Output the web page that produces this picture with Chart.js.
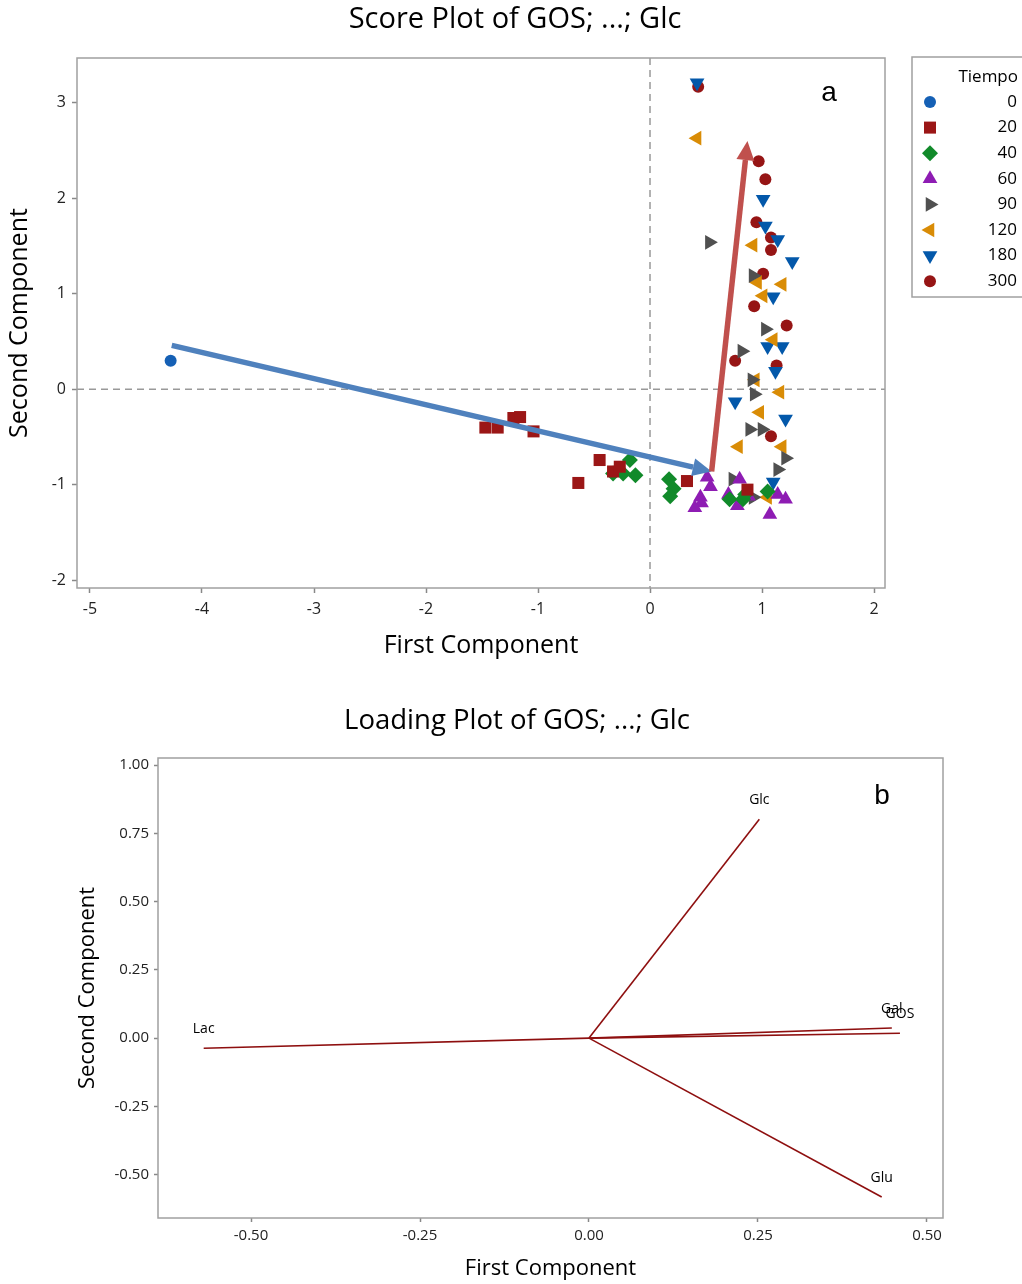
<!DOCTYPE html>
<html lang="en">
<head>
    <meta charset="UTF-8">
    <title>Score Plot / Loading Plot of GOS; ...; Glc</title>
    <script src="https://cdn.jsdelivr.net/npm/chart.js"></script>
    <style>
        body { margin: 0; background: #fff; }
        .panel { position: absolute; left: 0; }
        #scoreWrap { top: 0; }
        #loadWrap { top: 680px; }
    </style>
</head>
<body>
    <div class="panel" id="scoreWrap"><canvas id="scoreChart" width="1022" height="680"></canvas></div>
    <div class="panel" id="loadWrap"><canvas id="loadChart" width="1022" height="604"></canvas></div>

    <script>
        // ---- Score plot data (First Component, Second Component) per Tiempo ----
        const tiempoLabels = ['0', '20', '40', '60', '90', '120', '180', '300'];
        const scores0 = [[-4.28, 0.30]];
        const scores20 = [[-1.47, -0.40], [-1.36, -0.40], [-1.22, -0.30], [-1.16, -0.29], [-1.04, -0.44],
            [-0.64, -0.98], [-0.45, -0.74], [-0.33, -0.86], [-0.27, -0.81], [0.33, -0.96], [0.87, -1.05]];
        const scores40 = [[-0.18, -0.74], [-0.33, -0.88], [-0.24, -0.88], [-0.13, -0.90], [0.17, -0.94],
            [0.21, -1.04], [0.18, -1.12], [0.71, -1.15], [0.83, -1.15], [0.85, -1.10], [1.05, -1.07]];
        const scores60 = [[0.51, -0.92], [0.54, -1.02], [0.45, -1.13], [0.46, -1.19], [0.40, -1.24], [0.80, -0.94],
            [0.70, -1.10], [0.78, -1.22], [0.88, -1.12], [1.14, -1.10], [1.21, -1.15], [1.07, -1.31]];
        const scores90 = [[0.53, 1.54], [0.92, 1.19], [1.03, 0.63], [0.82, 0.40], [0.91, 0.10], [0.93, -0.05],
            [0.89, -0.42], [1.00, -0.42], [1.21, -0.72], [1.14, -0.84], [0.74, -0.94], [0.92, -1.13]];
        const scores120 = [[0.42, 2.63], [0.92, 1.51], [0.96, 1.12], [1.18, 1.10], [1.01, 0.98], [1.10, 0.52],
            [0.94, 0.10], [1.16, -0.03], [0.98, -0.24], [1.18, -0.60], [0.79, -0.60], [1.05, -1.13]];
        const scores180 = [[0.42, 3.21], [1.01, 1.99], [1.03, 1.71], [1.14, 1.57], [1.27, 1.34], [1.10, 0.97],
            [1.05, 0.45], [1.18, 0.45], [1.12, 0.19], [0.76, -0.13], [1.21, -0.31], [1.10, -0.97]];
        const scores300 = [[0.43, 3.17], [0.97, 2.39], [1.03, 2.20], [0.95, 1.75], [1.08, 1.59], [1.08, 1.46],
            [1.01, 1.21], [0.93, 0.87], [1.22, 0.67], [0.76, 0.30], [1.13, 0.25], [1.08, -0.49]];

        // trend arrows drawn on the score plot (data coords)
        const blueArrow = [[-4.27, 0.46], [0.55, -0.86]];
        const redArrow = [[0.55, -0.86], [0.87, 2.60]];

        const scoreXTicks = [-5, -4, -3, -2, -1, 0, 1, 2];
        const scoreYTicks = [-2, -1, 0, 1, 2, 3];

        // ---- Loading plot data ----
        const loadVars = ['GOS', 'Gal', 'Glu', 'Lac', 'Glc'];
        const loadX = [0.460, 0.448, 0.433, -0.570, 0.252];
        const loadY = [0.018, 0.037, -0.582, -0.037, 0.802];
        const loadXTicks = [-0.50, -0.25, 0.00, 0.25, 0.50];
        const loadYTicks = [-0.50, -0.25, 0.00, 0.25, 0.50, 0.75, 1.00];

        const FONT = "'Open Sans', 'Noto Sans', sans-serif";

        // Draw a box around the plot area
        const framePlugin = {
            id: 'frame',
            afterDraw(chart) {
                const { ctx, chartArea: a } = chart;
                ctx.save();
                ctx.strokeStyle = '#a0a0a0';
                ctx.lineWidth = 1.5;
                ctx.strokeRect(a.left, a.top, a.right - a.left, a.bottom - a.top);
                ctx.restore();
            }
        };

        // Figure title + panel letter
        function titlePlugin(text, size, tx, ty, letter, lx, ly) {
            return {
                id: 'figTitle',
                afterDraw(chart) {
                    const ctx = chart.ctx;
                    ctx.save();
                    ctx.fillStyle = '#000';
                    ctx.textAlign = 'center';
                    ctx.textBaseline = 'middle';
                    ctx.font = size + 'px ' + FONT;
                    ctx.fillText(text, tx, ty);
                    ctx.font = '28px "Liberation Sans", Arial, sans-serif';
                    ctx.fillText(letter, lx, ly);
                    ctx.restore();
                }
            };
        }

        // Dashed zero lines on the score plot
        const zeroLines = {
            id: 'zeroLines',
            beforeDatasetsDraw(chart) {
                const { ctx, chartArea: a, scales: { x, y } } = chart;
                ctx.save();
                ctx.strokeStyle = '#999';
                ctx.lineWidth = 1.5;
                ctx.setLineDash([7, 5]);
                ctx.beginPath();
                ctx.moveTo(x.getPixelForValue(0), a.top);
                ctx.lineTo(x.getPixelForValue(0), a.bottom);
                ctx.moveTo(a.left, y.getPixelForValue(0));
                ctx.lineTo(a.right, y.getPixelForValue(0));
                ctx.stroke();
                ctx.restore();
            }
        };

        function drawArrow(ctx, x0, y0, x1, y1, color) {
            const ang = Math.atan2(y1 - y0, x1 - x0);
            const headLen = 19, headW = 9;
            const bx = x1 - Math.cos(ang) * headLen, by = y1 - Math.sin(ang) * headLen;
            ctx.strokeStyle = color;
            ctx.fillStyle = color;
            ctx.lineWidth = 5.5;
            ctx.lineCap = 'butt';
            ctx.beginPath();
            ctx.moveTo(x0, y0);
            ctx.lineTo(bx, by);
            ctx.stroke();
            ctx.beginPath();
            ctx.moveTo(x1, y1);
            ctx.lineTo(bx + Math.sin(ang) * headW, by - Math.cos(ang) * headW);
            ctx.lineTo(bx - Math.sin(ang) * headW, by + Math.cos(ang) * headW);
            ctx.closePath();
            ctx.fill();
        }

        const arrowsPlugin = {
            id: 'arrows',
            afterDatasetsDraw(chart) {
                const { ctx, scales: { x, y } } = chart;
                ctx.save();
                const px = p => [x.getPixelForValue(p[0]), y.getPixelForValue(p[1])];
                const b0 = px(blueArrow[0]), b1 = px(blueArrow[1]);
                const r0 = px(redArrow[0]), r1 = px(redArrow[1]);
                drawArrow(ctx, b0[0], b0[1], b1[0], b1[1], '#4F81BD');
                drawArrow(ctx, r0[0], r0[1], r1[0], r1[1], '#C0504D');
                ctx.restore();
            }
        };

        // Minitab-style legend on the right
        const tiempoLegend = {
            id: 'tiempoLegend',
            afterDraw(chart) {
                const ctx = chart.ctx;
                ctx.save();
                ctx.strokeStyle = '#a0a0a0';
                ctx.lineWidth = 1.5;
                ctx.strokeRect(912, 57, 130, 240);
                ctx.fillStyle = '#000';
                ctx.font = '17px ' + FONT;
                ctx.textAlign = 'right';
                ctx.textBaseline = 'middle';
                ctx.fillText('Tiempo', 1018, 77);
                chart.data.datasets.forEach((ds, i) => {
                    const yy = 102 + i * 25.6;
                    ctx.fillStyle = ds.backgroundColor;
                    Chart.helpers.drawPoint(ctx, {
                        pointStyle: ds.pointStyle, radius: ds.pointRadius,
                        rotation: ds.rotation || 0, borderWidth: 0
                    }, 930, yy);
                    ctx.fillStyle = '#000';
                    ctx.fillText(ds.label, 1017, yy);
                });
                ctx.restore();
            }
        };

        function mk(points, label, color, style, radius, rotation) {
            return {
                label: label,
                data: points.map(p => ({ x: p[0], y: p[1] })),
                backgroundColor: color,
                borderWidth: 0,
                pointStyle: style,
                pointRadius: radius,
                rotation: rotation,
                pointRotation: rotation
            };
        }

        const axisTitle = (text, size, pad) => ({
            display: true, text: text, color: '#000',
            font: { family: FONT, size: size }, padding: pad
        });

        new Chart(document.getElementById('scoreChart'), {
            type: 'scatter',
            data: {
                datasets: [
                    mk(scores0, tiempoLabels[0], '#1560B5', 'circle', 6, 0),
                    mk(scores20, tiempoLabels[1], '#9B1616', 'rect', 8.5, 0),
                    mk(scores40, tiempoLabels[2], '#118A2A', 'rectRot', 8, 0),
                    mk(scores60, tiempoLabels[3], '#8E1CB3', 'triangle', 8.5, 0),
                    mk(scores90, tiempoLabels[4], '#505050', 'triangle', 8.5, 90),
                    mk(scores120, tiempoLabels[5], '#D98C06', 'triangle', 8.5, 270),
                    mk(scores180, tiempoLabels[6], '#0358AA', 'triangle', 8.5, 180),
                    mk(scores300, tiempoLabels[7], '#961515', 'circle', 6, 0)
                ]
            },
            options: {
                responsive: false,
                animation: false,
                events: [],
                layout: { padding: { left: 0, right: 137, top: 58, bottom: 0 } },
                plugins: { legend: { display: false }, tooltip: { enabled: false } },
                scales: {
                    x: {
                        type: 'linear', min: -5.116, max: 2.098,
                        afterBuildTicks: s => { s.ticks = scoreXTicks.map(v => ({ value: v })); },
                        afterFit: s => { s.height = 92; },
                        ticks: { color: '#222', font: { family: FONT, size: 16 }, padding: 7 },
                        grid: { drawOnChartArea: false, drawTicks: true, tickLength: 5, color: '#888', tickWidth: 1.5 },
                        border: { display: false },
                        title: axisTitle('First Component', 25, { top: 0, bottom: 19 })
                    },
                    y: {
                        type: 'linear', min: -2.08, max: 3.47,
                        afterBuildTicks: s => { s.ticks = scoreYTicks.map(v => ({ value: v })); },
                        afterFit: s => { s.width = 77; },
                        ticks: { color: '#222', font: { family: FONT, size: 16 }, padding: 6 },
                        grid: { drawOnChartArea: false, drawTicks: true, tickLength: 5, color: '#888', tickWidth: 1.5 },
                        border: { display: false },
                        title: axisTitle('Second Component', 25, { top: 5, bottom: 0 })
                    }
                }
            },
            plugins: [framePlugin, zeroLines, arrowsPlugin, tiempoLegend,
                titlePlugin('Score Plot of GOS; ...; Glc', 29, 515, 20, 'a', 829, 93)]
        });

        // ---- Loading plot ----
        const loadLabels = {
            id: 'loadLabels',
            afterDatasetsDraw(chart) {
                const { ctx, scales: { x, y } } = chart;
                ctx.save();
                ctx.fillStyle = '#000';
                ctx.font = '14px ' + FONT;
                ctx.textAlign = 'center';
                ctx.textBaseline = 'middle';
                loadVars.forEach((v, i) => {
                    ctx.fillText(v, x.getPixelForValue(loadX[i]), y.getPixelForValue(loadY[i]) - 19);
                });
                ctx.restore();
            }
        };

        new Chart(document.getElementById('loadChart'), {
            type: 'scatter',
            data: {
                datasets: loadVars.map((v, i) => ({
                    label: v,
                    data: [{ x: 0, y: 0 }, { x: loadX[i], y: loadY[i] }],
                    showLine: true,
                    borderColor: '#8E0F0F',
                    borderWidth: 1.6,
                    pointRadius: 0
                }))
            },
            options: {
                responsive: false,
                animation: false,
                events: [],
                layout: { padding: { left: 0, right: 79, top: 78, bottom: 0 } },
                plugins: { legend: { display: false }, tooltip: { enabled: false } },
                scales: {
                    x: {
                        type: 'linear', min: -0.6376, max: 0.5237,
                        afterBuildTicks: s => { s.ticks = loadXTicks.map(v => ({ value: v })); },
                        afterFit: s => { s.height = 66; },
                        ticks: { color: '#222', font: { family: FONT, size: 15 }, padding: 5, callback: v => v.toFixed(2) },
                        grid: { drawOnChartArea: false, drawTicks: true, tickLength: 4, color: '#888', tickWidth: 1.5 },
                        border: { display: false },
                        title: axisTitle('First Component', 22, { top: 0, bottom: 2 })
                    },
                    y: {
                        type: 'linear', min: -0.659, max: 1.026,
                        afterBuildTicks: s => { s.ticks = loadYTicks.map(v => ({ value: v })); },
                        afterFit: s => { s.width = 158; },
                        ticks: { color: '#222', font: { family: FONT, size: 15 }, padding: 5, callback: v => v.toFixed(2) },
                        grid: { drawOnChartArea: false, drawTicks: true, tickLength: 4, color: '#888', tickWidth: 1.5 },
                        border: { display: false },
                        title: axisTitle('Second Component', 22, { top: 75, bottom: 0 })
                    }
                }
            },
            plugins: [framePlugin, loadLabels,
                titlePlugin('Loading Plot of GOS; ...; Glc', 27.5, 517, 41, 'b', 882, 116)]
        });
    </script>
</body>
</html>
